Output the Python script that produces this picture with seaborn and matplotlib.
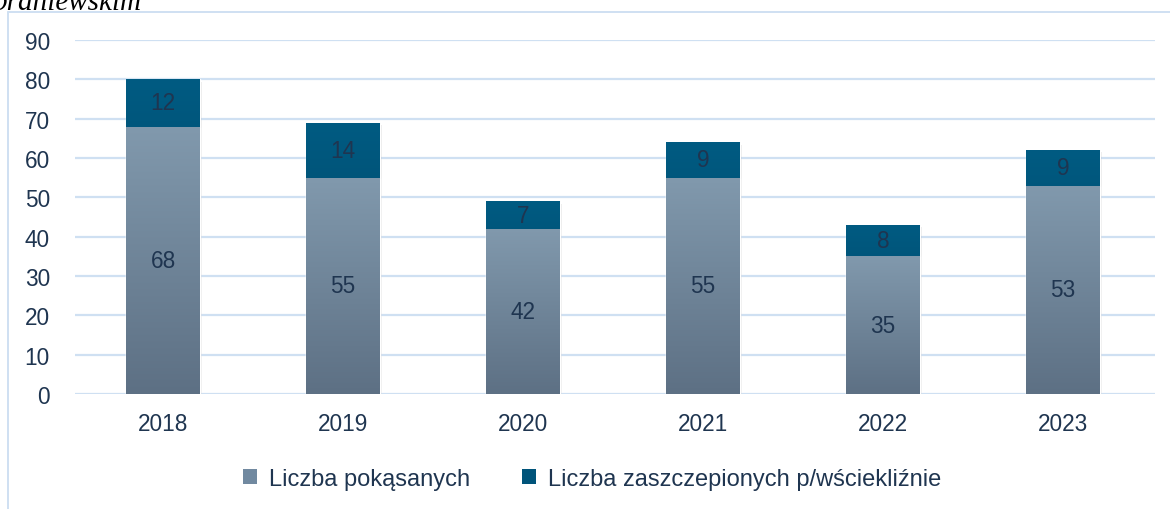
import numpy as np
import pandas as pd
import matplotlib.pyplot as plt
import seaborn as sns
from matplotlib.colors import LinearSegmentedColormap
from matplotlib.patches import Patch, Rectangle

# data
years = ["2018", "2019", "2020", "2021", "2022", "2023"]
bitten = [68, 55, 42, 55, 35, 53]
vaccinated = [12, 14, 7, 9, 8, 9]
series_names = ["Liczba pokąsanych", "Liczba zaszczepionych p/wściekliźnie"]

TEXT = "#1f3550"
GRID = "#cfe0f2"
FS = 16.3

df = pd.DataFrame({"rok": years, "pokasani": bitten, "szczepieni": vaccinated})
df["razem"] = df["pokasani"] + df["szczepieni"]

sns.set_style("white")
plt.rcParams["font.family"] = ["Liberation Sans", "DejaVu Sans"]

fig = plt.figure(figsize=(11.7, 5.1), dpi=100)
ax = fig.add_axes([75 / 1170, 1 - 395 / 510, 1080 / 1170, 354 / 510])

# stacked bars: totals first, bottom series drawn over them
sns.barplot(data=df, x="rok", y="razem", color="#00547a", width=0.41,
            ax=ax, zorder=3, saturation=1)
sns.barplot(data=df, x="rok", y="pokasani", color="#7189a0", width=0.41,
            ax=ax, zorder=3, saturation=1)

# vertical gradients clipped to each bar
grad_top = LinearSegmentedColormap.from_list("top", ["#003d5c", "#005b82"])
grad_bot = LinearSegmentedColormap.from_list("bot", ["#5d7084", "#8199ad"])
n = len(years)
for i, p in enumerate(ax.patches):
    cmap = grad_top if i < n else grad_bot
    x0, y0 = p.get_x(), p.get_y()
    w, h = p.get_width(), p.get_height()
    img = ax.imshow(np.linspace(0, 1, 256).reshape(-1, 1), cmap=cmap,
                    origin="lower", aspect="auto",
                    extent=[x0, x0 + w, y0, y0 + h], zorder=4)
    img.set_clip_path(p)
    if i < n:
        # light drop shadow
        ax.add_patch(Rectangle((x0 + 0.012, -0.6), w, h, color="#000000",
                               alpha=0.08, zorder=2, lw=0))
ax.set_xlim(-0.489, 5.511)
ax.set_ylim(0, 90)
ax.set_yticks(range(0, 91, 10))

# value labels
for i in range(n):
    ax.text(i, bitten[i] / 2, str(bitten[i]), ha="center", va="center",
            fontsize=FS, color=TEXT, zorder=5)
    ax.text(i, bitten[i] + vaccinated[i] / 2, str(vaccinated[i]),
            ha="center", va="center", fontsize=FS, color=TEXT, zorder=5)

ax.grid(axis="y", color=GRID, lw=1.6, zorder=0)
ax.set_axisbelow(True)
sns.despine(ax=ax, left=True, bottom=True)
ax.tick_params(axis="both", length=0, labelsize=FS, labelcolor=TEXT)
ax.tick_params(axis="y", pad=18)
ax.tick_params(axis="x", pad=13)
ax.set_xlabel("")
ax.set_ylabel("")

# legend
handles = [Patch(facecolor="#7189a0", edgecolor="none"),
           Patch(facecolor="#00547a", edgecolor="none")]
fig.legend(handles, series_names, loc="center", ncol=2,
           bbox_to_anchor=(0.506, 0.059), frameon=False, fontsize=17,
           labelcolor=TEXT, handlelength=0.6, handleheight=0.6,
           handletextpad=0.5, columnspacing=2.2)

# chart area frame (left and top edges)
fig.add_artist(plt.Line2D([8 / 1170, 8 / 1170], [0, 1 - 13 / 510],
                          transform=fig.transFigure, color=GRID, lw=1.4))
fig.add_artist(plt.Line2D([8 / 1170, 1], [1 - 13 / 510, 1 - 13 / 510],
                          transform=fig.transFigure, color=GRID, lw=1.4))

# cut-off title above the chart
fig.text(-0.006, 1 - 10 / 510, "braniewskim", fontsize=21, style="italic",
         family="Liberation Serif", color="#000000", va="baseline")

fig.savefig("out.png", dpi=100)
